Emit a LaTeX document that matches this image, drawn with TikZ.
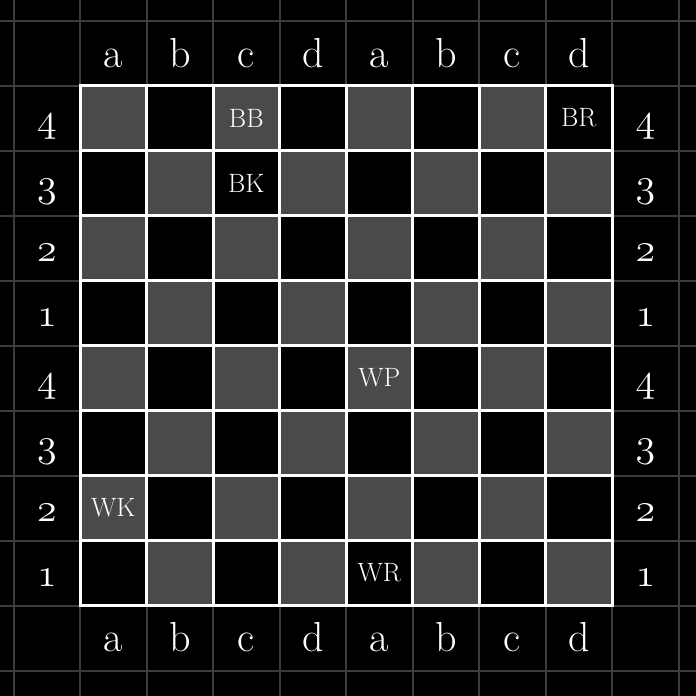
\RequirePackage{fix-cm}
\documentclass[tikz,border=0pt]{standalone}
\definecolor{gridgray}{HTML}{3C3C3C}
\definecolor{sqgray}{HTML}{4A4A4A}
\newcommand{\osnum}[1]{{\usefont{OML}{cmm}{m}{it}#1}}
\begin{document}
\begin{tikzpicture}[x=1pt,y=-1pt,
  bgline/.style={draw=gridgray, line width=2pt},
  sqbox/.style={draw=white, line width=3pt, minimum width=66.5pt, minimum height=65pt, inner sep=0pt, outer sep=0pt},
  piece/.style={text=white, font=\fontsize{26.5}{30}\selectfont, inner sep=0pt},
  collbl/.style={text=white, font=\fontsize{42}{50}\selectfont, anchor=base, inner sep=0pt},
  rowlbl/.style={text=white, font=\fontsize{40}{48}\selectfont, anchor=base, inner sep=0pt}]
\fill[black] (0,0) rectangle (696,696);
\useasboundingbox (0,0) rectangle (696,696);
\foreach \i in {0,...,10} {
  \draw[bgline] ({13.5+66.5*\i},0) -- ({13.5+66.5*\i},696);
  \draw[bgline] (0,{20.5+65*\i}) -- (696,{20.5+65*\i});
}
% board squares
\foreach \c in {0,...,7} {
  \foreach \r in {0,...,7} {
    \pgfmathtruncatemacro\p{mod(\c+\r,2)}
    \ifnum\p=0 \def\fc{sqgray}\else\def\fc{black}\fi
    \node[sqbox, fill=\fc] (s\c\r) at ({80+66.5*(\c+0.5)},{85.5+65*(\r+0.5)}) {};
  }
}
% pieces
\node[piece] (bb) at (s20) {BB};
\node[piece] (br) at (s70) {BR};
\node[piece] (bk) at (s21) {BK};
\node[piece] (wp) at (s44) {WP};
\node[piece] (wk) at (s06) {WK};
\node[piece] (wr) at (s47) {WR};
% column labels
\foreach \c/\l in {0/a,1/b,2/c,3/d,4/a,5/b,6/c,7/d} {
  \node[collbl] (top\c) at ({80+66.5*(\c+0.5)},67) {\l};
  \node[collbl] (bot\c) at ({80+66.5*(\c+0.5)},651.5) {\l};
}
% row labels
\foreach \r/\l in {0/4,1/3,2/2,3/1,4/4,5/3,6/2,7/1} {
  \node[rowlbl] (lft\r) at (47,{85.5+65*(\r+1)-19}) {\osnum{\l}};
  \node[rowlbl] (rgt\r) at (645.5,{85.5+65*(\r+1)-19}) {\osnum{\l}};
}
\end{tikzpicture}
\end{document}
